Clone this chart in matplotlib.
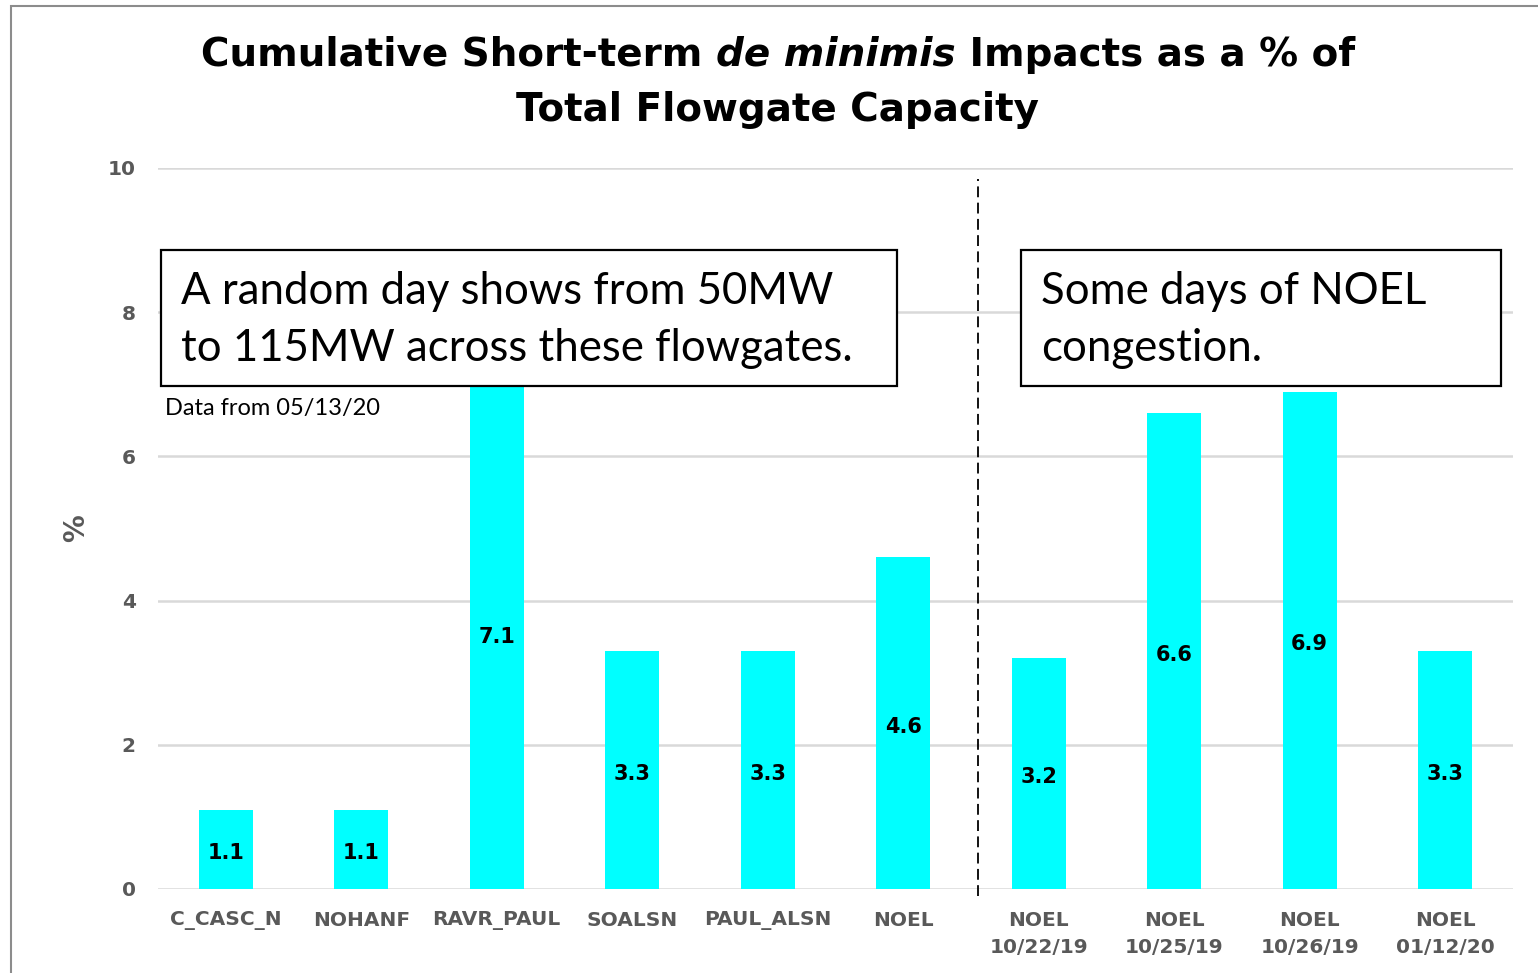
import numpy as np
import matplotlib.pyplot as plt
from matplotlib.patches import Rectangle

categories = ['C_CASC_N', 'NOHANF', 'RAVR_PAUL', 'SOALSN', 'PAUL_ALSN', 'NOEL',
              'NOEL\n10/22/19', 'NOEL\n10/25/19', 'NOEL\n10/26/19', 'NOEL\n01/12/20']
values = [1.1, 1.1, 7.1, 3.3, 3.3, 4.6, 3.2, 6.6, 6.9, 3.3]

W, H = 1538, 973
fig = plt.figure(figsize=(W / 100, H / 100), dpi=100)

def fx(px):
    return px / W

def fy(py):
    return 1 - py / H

# outer chart border
fig.patches.append(Rectangle((fx(11), fy(1000)), 2, fy(6) - fy(1000), transform=fig.transFigure,
                             fill=False, edgecolor='#8c8c8c', lw=1.5))

ax = fig.add_axes([fx(158), fy(889), fx(1513) - fx(158), fy(168) - fy(889)])
x = np.arange(len(categories))
bars = ax.bar(x, values, width=0.4, color='#00ffff', zorder=2)
for b, v in zip(bars, values):
    ax.text(b.get_x() + b.get_width() / 2, v / 2 - 0.05, f'{v:.1f}', ha='center', va='center',
            fontsize=15, fontweight='bold', color='black', zorder=3)

ax.set_xlim(-0.5, len(categories) - 0.5)
ax.set_ylim(0, 10)
ax.set_yticks([0, 2, 4, 6, 8, 10])
ax.grid(axis='y', color='#d9d9d9', lw=1.8, zorder=0)
ax.set_axisbelow(True)
for s in ax.spines.values():
    s.set_visible(False)
ax.tick_params(length=0, colors='#595959', labelsize=14.5)
ax.tick_params(axis='y', pad=16)
ax.tick_params(axis='x', pad=16)
ax.set_xticks(x)
ax.set_xticklabels(categories, fontweight='bold', linespacing=1.5)
for lab in ax.get_yticklabels():
    lab.set_fontweight('bold')
ax.set_ylabel('%', fontsize=20, color='#595959', fontweight='bold', labelpad=13)

# dashed divider
ax.plot([5.55, 5.55], [-0.1, 9.85], ls=(0, (6, 3)), color='black', lw=1.3, zorder=1, clip_on=False)

# annotation boxes
for (l, t, r, b), txt in [((161, 250, 897, 386), 'A random day shows from 50MW\nto 115MW across these flowgates.'),
                          ((1021, 250, 1501, 386), 'Some days of NOEL\ncongestion.')]:
    fig.patches.append(Rectangle((fx(l), fy(b)), fx(r) - fx(l), fy(t) - fy(b), transform=fig.transFigure,
                                 facecolor='white', edgecolor='black', lw=1.6, zorder=5))
    fig.text(fx(l + 20), fy((t + b) / 2 + 2), txt, ha='left', va='center', fontsize=31.5,
             family='Lato', linespacing=1.47, zorder=6)

fig.text(fx(165), fy(409), 'Data from 05/13/20', ha='left', va='center', fontsize=17, family='Lato')

# title with italic part
parts = [('Cumulative Short-term ', 'normal'), ('de minimis', 'italic'), (' Impacts as a % of', 'normal')]
r = fig.canvas.get_renderer()
objs = [fig.text(0, fy(55), p, fontsize=28, fontweight='bold', style=st, va='center') for p, st in parts]
widths = [o.get_window_extent(r).width for o in objs]
start = 778 - sum(widths) / 2
for o, w in zip(objs, widths):
    o.set_x(fx(start))
    start += w
fig.text(fx(778), fy(110), 'Total Flowgate Capacity', fontsize=28, fontweight='bold', ha='center', va='center')

fig.savefig('out.png', dpi=100)
